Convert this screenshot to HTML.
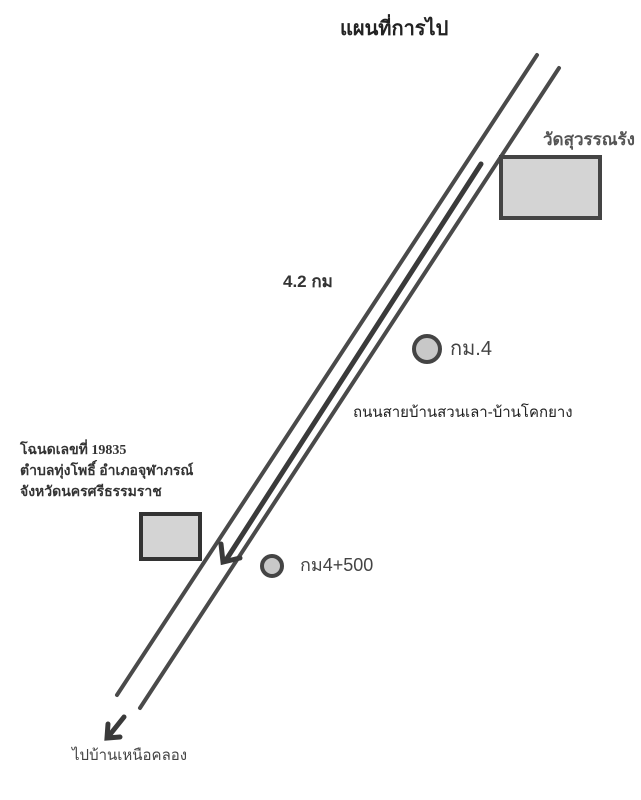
<!DOCTYPE html>
<html><head><meta charset="utf-8"><style>
body{margin:0;width:641px;height:800px;background:#fff;position:relative;overflow:hidden;font-family:"Liberation Sans","Noto Sans CJK SC",sans-serif;}
.t{position:absolute;white-space:nowrap;color:#333}
</style></head><body>
<svg width="641" height="800" style="position:absolute;left:0;top:0">
<g stroke="#4a4a4a" stroke-width="4" stroke-linecap="round" fill="none">
<line x1="537" y1="55" x2="117" y2="695"/>
<line x1="559" y1="68" x2="140" y2="708"/>
<line x1="481" y1="164" x2="226" y2="560" stroke-width="5" stroke="#3a3a3a"/>
<polyline points="221,544 223,562 240,558" stroke-width="5" stroke="#3a3a3a"/>
<line x1="124" y1="717" x2="108" y2="737" stroke-width="5" stroke="#3a3a3a"/>
<polyline points="108,724 107,738 120,737" stroke-width="5" stroke="#3a3a3a"/>
</g>
<rect x="501" y="157" width="99" height="61" fill="#d4d4d4" stroke="#444" stroke-width="4"/>
<rect x="141" y="514" width="59" height="45" fill="#d4d4d4" stroke="#333" stroke-width="4"/>
<circle cx="427" cy="349" r="13" fill="#c8c8c8" stroke="#444" stroke-width="4"/>
<circle cx="272" cy="566" r="10" fill="#c8c8c8" stroke="#444" stroke-width="4"/>
</svg>
<div class="t" style="left:340px;top:12px;font-size:20px;font-weight:bold;color:#222">แผนที่การไป</div>
<div class="t" style="left:543px;top:126px;font-size:17px;font-weight:bold;color:#555">วัดสุวรรณรัง</div>
<div class="t" style="left:283px;top:268px;font-size:17px;font-weight:bold;color:#333">4.2 กม</div>
<div class="t" style="left:450px;top:332px;font-size:20px;color:#444">กม.4</div>
<div class="t" style="left:353px;top:400px;font-size:15px;color:#222">ถนนสายบ้านสวนเลา-บ้านโคกยาง</div>
<div class="t" style="left:20px;top:440px;font-size:14px;line-height:21px;font-family:'Liberation Serif','Noto Serif CJK SC',serif;font-weight:bold;color:#333">โฉนดเลขที่ 19835<br>ตำบลทุ่งโพธิ์ อำเภอจุฬาภรณ์<br>จังหวัดนครศรีธรรมราช</div>
<div class="t" style="left:300px;top:550px;font-size:18px;color:#444">กม4+500</div>
<div class="t" style="left:72px;top:743px;font-size:15px;color:#444">ไปบ้านเหนือคลอง</div>
</body></html>
